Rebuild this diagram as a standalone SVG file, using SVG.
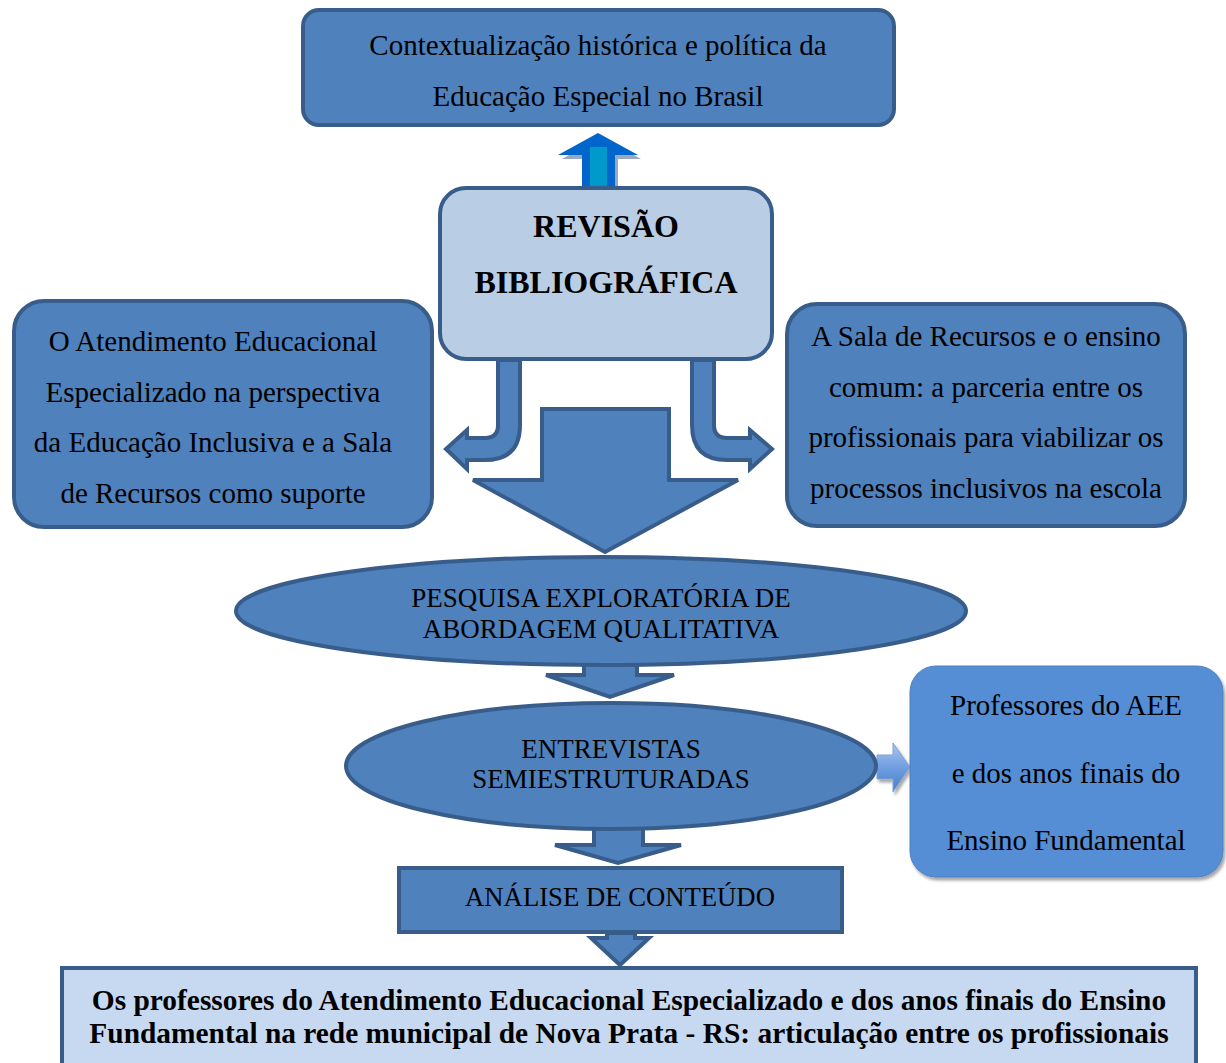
<svg xmlns="http://www.w3.org/2000/svg" width="1226" height="1063" viewBox="0 0 1226 1063">
<defs>
<style>
.n{fill:#4f81bd;stroke:#385d8a;stroke-width:4}
.t{font-family:'Liberation Serif','Times New Roman',serif;font-size:29px;fill:#000;text-anchor:middle}
.b{font-weight:bold}
.e{font-size:27px}
.a{fill:#4f81bd;stroke:#385d8a;stroke-width:4;stroke-linejoin:miter}
</style>
<linearGradient id="ga" x1="0" y1="0" x2="0" y2="1">
<stop offset="0" stop-color="#a9c6f0"/><stop offset="0.5" stop-color="#6f9ee0"/><stop offset="1" stop-color="#4a7ec8"/>
</linearGradient>
<filter id="sh" x="-10%" y="-10%" width="120%" height="120%">
<feDropShadow dx="2" dy="3" stdDeviation="1.5" flood-color="#000" flood-opacity="0.35"/>
</filter>
</defs>

<g id="connectors">
<path d="M585,202 L585,159 L562,159 L601,137 L641,159 L618,159 L618,202 Z" fill="#9aa9bd"/>
<path d="M582,199 L582,155 L558,155 L598,133 L638,155 L615,155 L615,199 Z" fill="#0066cc"/>
<rect x="590" y="147" width="17" height="44" fill="#0099cc"/>
<path class="a" d="M520,360 L520,425 Q520,460 485,460 L467,460 L467,469 L446,449 L467,430 L467,438 L485,438 Q498,438 498,425 L498,360 Z"/>
<path class="a" d="M692,360 L692,425 Q692,460 727,460 L750,460 L750,469 L772,449 L750,430 L750,438 L727,438 Q714,438 714,425 L714,360 Z"/>
<path class="a" d="M542,409 L669,409 L669,480 L738,480 L605,552 L473,480 L542,480 Z"/>
<path class="a" d="M584,662 L637,662 L637,675 L674,675 L610,697 L546,675 L584,675 Z"/>
<path d="M877,755 L893,755 L893,743 L910,767 L893,792 L893,779 L877,779 Z" fill="url(#ga)" stroke="#7da3d8" stroke-width="1" filter="url(#sh)"/>
<path class="a" d="M594,828 L643,828 L643,845 L681,845 L618,863 L555,845 L594,845 Z"/>
<path class="a" d="M607,933 L635,933 L635,938 L649,938 L620,965 L591,938 L607,938 Z"/>
</g>

<g id="contexto">
<rect class="n" x="303" y="10" width="591" height="115" rx="16"/>
<text class="t" x="598" y="55">Contextualização histórica e política da</text>
<text class="t" x="598" y="106">Educação Especial no Brasil</text>
</g>

<g id="revisao">
<rect x="440" y="188" width="332" height="171" rx="26" fill="#b9cde5" stroke="#385d8a" stroke-width="4"/>
<text class="t b" x="606" y="237" style="font-size:32px">REVISÃO</text>
<text class="t b" x="606" y="293" style="font-size:32px">BIBLIOGRÁFICA</text>
</g>

<g id="aee">
<rect class="n" x="14" y="301" width="418" height="226" rx="30"/>
<text class="t" x="213" y="351">O Atendimento Educacional</text>
<text class="t" x="213" y="402">Especializado na perspectiva</text>
<text class="t" x="213" y="452">da Educação Inclusiva e a Sala</text>
<text class="t" x="213" y="503">de Recursos como suporte</text>
</g>

<g id="sala">
<rect class="n" x="787" y="304" width="398" height="222" rx="30"/>
<text class="t" x="986" y="346">A Sala de Recursos e o ensino</text>
<text class="t" x="986" y="397">comum: a parceria entre os</text>
<text class="t" x="986" y="447">profissionais para viabilizar os</text>
<text class="t" x="986" y="498">processos inclusivos na escola</text>
</g>

<g id="pesquisa">
<ellipse class="n" cx="601" cy="611" rx="365" ry="54"/>
<text class="t e" x="601" y="607">PESQUISA EXPLORATÓRIA DE</text>
<text class="t e" x="601" y="638">ABORDAGEM QUALITATIVA</text>
</g>

<g id="entrevistas">
<ellipse class="n" cx="611" cy="766" rx="265" ry="63"/>
<text class="t e" x="611" y="758">ENTREVISTAS</text>
<text class="t e" x="611" y="788">SEMIESTRUTURADAS</text>
</g>

<g id="professores">
<rect x="910" y="666" width="313" height="211" rx="26" fill="#558ed5" stroke="#4f81bd" stroke-width="1" filter="url(#sh)"/>
<text class="t" x="1066" y="715">Professores do AEE</text>
<text class="t" x="1066" y="783">e dos anos finais do</text>
<text class="t" x="1066" y="850">Ensino Fundamental</text>
</g>

<g id="analise">
<rect class="n" x="399" y="868" width="443" height="64"/>
<text class="t" x="620" y="906" style="font-size:26.7px">ANÁLISE DE CONTEÚDO</text>
</g>

<g id="conclusao">
<rect x="62" y="968" width="1134" height="110" fill="#c6d9f1" stroke="#385d8a" stroke-width="4"/>
<text class="t b" x="629" y="1010" style="font-size:29.4px">Os professores do Atendimento Educacional Especializado e dos anos finais do Ensino</text>
<text class="t b" x="629" y="1043" style="font-size:29.4px">Fundamental na rede municipal de Nova Prata - RS: articulação entre os profissionais</text>
</g>
</svg>
